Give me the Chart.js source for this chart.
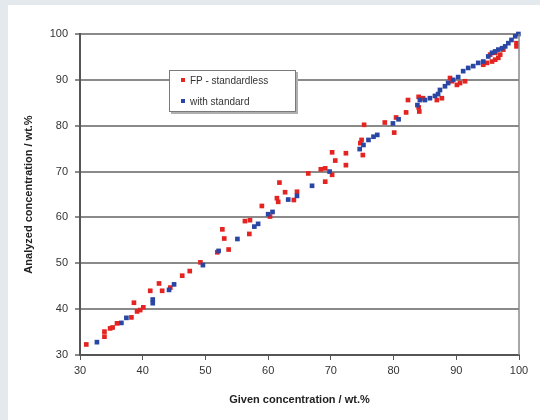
<!DOCTYPE html>
<html>
<head>
<meta charset="utf-8">
<script src="https://cdn.jsdelivr.net/npm/chart.js@4.4.1/dist/chart.umd.min.js"></script>
<style>
  html, body { margin: 0; padding: 0; }
  body { width: 540px; height: 420px; background: #e4e9ee; position: relative; overflow: hidden; font-family: "Liberation Sans", Arial, sans-serif; }
  #panel { position: absolute; left: 8px; top: 5px; width: 532px; height: 415px; background: #fff; }
  #legend { position: absolute; left: 161px; top: 65px; width: 125px; height: 40px; background: #fff;
            border: 1px solid #7a7a7a; box-shadow: 2px 2px 0 #b0b0b0; font-size: 10px; color: #333; }
  #legend div { position: absolute; left: 11px; white-space: nowrap; line-height: 12px; }
  #legend span { display: inline-block; width: 4px; height: 4px; margin-right: 5px; vertical-align: 2px; }
</style>
</head>
<body>
<div id="panel">
  <canvas id="chart" width="532" height="415"></canvas>
  <div id="legend">
    <div style="top:4px"><span style="background:#e32420"></span>FP - standardless</div>
    <div style="top:25px"><span style="background:#2a46a4"></span>with standard</div>
  </div>
</div>
<script>
const xTicks = [30, 40, 50, 60, 70, 80, 90, 100];
const yTicks = [30, 40, 50, 60, 70, 80, 90, 100];

// FP - standardless
const fpGiven = [31.0, 33.9, 33.9, 34.8, 35.2, 35.9, 38.2, 38.6, 39.1, 39.6, 40.1, 41.2, 42.6, 43.1, 44.4,
  46.3, 47.5, 49.2, 51.9, 52.7, 53.0, 53.7, 56.3, 57.0, 57.1, 59.0, 60.3, 61.4, 61.6, 61.8, 62.7,
  64.1, 64.6, 66.4, 68.4, 69.1, 69.1, 70.2, 70.7, 70.2, 72.4, 72.4, 74.7, 74.9, 75.1, 75.3, 78.6,
  80.1, 80.4, 82.0, 82.3, 84.0, 84.1, 84.0, 84.7, 86.9, 87.7, 89.0, 89.3, 90.1, 90.6, 91.4, 94.3,
  94.9, 95.7, 96.2, 96.7, 95.4, 96.2, 97.0, 97.5, 99.6, 99.6];
const fpAnalyzed = [32.3, 35.1, 34.0, 35.8, 36.0, 36.9, 38.2, 41.4, 39.5, 39.8, 40.4, 44.0, 45.6, 44.0, 44.7,
  47.3, 48.3, 50.2, 52.4, 57.4, 55.4, 53.0, 59.2, 56.4, 59.4, 62.5, 60.2, 64.2, 63.4, 67.6, 65.5,
  63.8, 65.6, 69.6, 70.5, 70.7, 67.8, 74.2, 72.4, 69.3, 74.0, 71.4, 76.2, 76.9, 73.6, 80.2, 80.7,
  78.5, 81.8, 82.9, 85.6, 86.3, 83.1, 84.0, 86.0, 85.6, 86.0, 90.4, 89.7, 88.9, 89.3, 89.7, 93.3,
  93.7, 94.0, 94.4, 94.8, 95.5, 95.9, 95.5, 96.6, 98.0, 97.3];

// with standard
const stdGiven = [32.7, 36.6, 37.4, 41.6, 41.6, 44.2, 45.0, 49.6, 52.1, 55.1, 57.8, 58.4, 60.0, 60.7,
  63.2, 64.6, 67.0, 69.8, 74.6, 75.2, 76.0, 76.8, 77.4, 79.9, 80.8, 83.8, 84.2, 85.0, 85.8, 86.6,
  87.1, 87.4, 88.2, 88.7, 89.5, 90.3, 91.1, 91.9, 92.7, 93.5, 94.3, 95.1, 95.7, 96.2, 96.7, 97.3,
  97.8, 98.3, 98.8, 99.4, 99.9];
const stdAnalyzed = [32.8, 37.0, 38.1, 42.1, 41.3, 44.2, 45.4, 49.6, 52.7, 55.3, 58.0, 58.6, 60.7, 61.2,
  63.9, 64.7, 66.9, 70.0, 74.9, 75.8, 76.9, 77.6, 78.0, 80.5, 81.4, 84.5, 85.6, 85.6, 86.0, 86.5,
  86.9, 87.8, 88.6, 89.3, 90.0, 90.6, 91.9, 92.6, 93.0, 93.7, 94.0, 95.1, 95.9, 96.2, 96.6, 96.9,
  97.3, 98.0, 98.7, 99.5, 100.0];

function toPoints(xs, ys) {
  return xs.map((x, i) => ({ x: x, y: ys[i] }));
}

const rightBorder = {
  id: 'rightBorder',
  afterDraw(chart) {
    const a = chart.chartArea, ctx = chart.ctx;
    ctx.save();
    ctx.strokeStyle = '#8a8a8a';
    ctx.lineWidth = 1.5;
    ctx.beginPath();
    ctx.moveTo(a.right, a.top);
    ctx.lineTo(a.right, a.bottom);
    ctx.stroke();
    ctx.restore();
  }
};

const font = { family: '"Liberation Sans", Arial, sans-serif', size: 11 };

new Chart(document.getElementById('chart'), {
  type: 'scatter',
  data: {
    datasets: [{
      label: 'FP - standardless',
      data: toPoints(fpGiven, fpAnalyzed),
      backgroundColor: '#e32420',
      borderWidth: 0,
      pointStyle: 'rect',
      pointRadius: 3.3,
      clip: false,
      order: 1
    }, {
      label: 'with standard',
      data: toPoints(stdGiven, stdAnalyzed),
      backgroundColor: '#2a46a4',
      borderWidth: 0,
      pointStyle: 'rect',
      pointRadius: 3.3,
      clip: false,
      order: 0
    }]
  },
  options: {
    responsive: false,
    devicePixelRatio: 1,
    animation: false,
    layout: { padding: { top: 29, right: 21, left: 0, bottom: 0 } },
    plugins: { legend: { display: false }, tooltip: { enabled: false } },
    scales: {
      x: {
        type: 'linear', min: 30, max: 100,
        afterFit: s => { s.height = 65; },
        afterBuildTicks: s => { s.ticks = xTicks.map(v => ({ value: v })); },
        grid: { drawOnChartArea: false, tickLength: 5, color: '#555' },
        border: { color: '#555', width: 2 },
        ticks: { color: '#333', font: font, padding: 4, maxRotation: 0 },
        title: { display: true, text: 'Given concentration / wt.%', color: '#222',
                 font: { family: font.family, size: 11, weight: 'bold' }, padding: { top: 0, bottom: 13 } }
      },
      y: {
        type: 'linear', min: 30, max: 100,
        afterFit: s => { s.width = 72; },
        afterBuildTicks: s => { s.ticks = yTicks.map(v => ({ value: v })); },
        grid: { color: '#8a8a8a', lineWidth: 2, tickLength: 5 },
        border: { color: '#555', width: 2 },
        ticks: { color: '#333', font: font, padding: 7 },
        title: { display: true, text: 'Analyzed concentration / wt.%', color: '#222',
                 font: { family: font.family, size: 11, weight: 'bold' }, padding: { top: 14, bottom: 0 } }
      }
    }
  },
  plugins: [rightBorder]
});
</script>
</body>
</html>
